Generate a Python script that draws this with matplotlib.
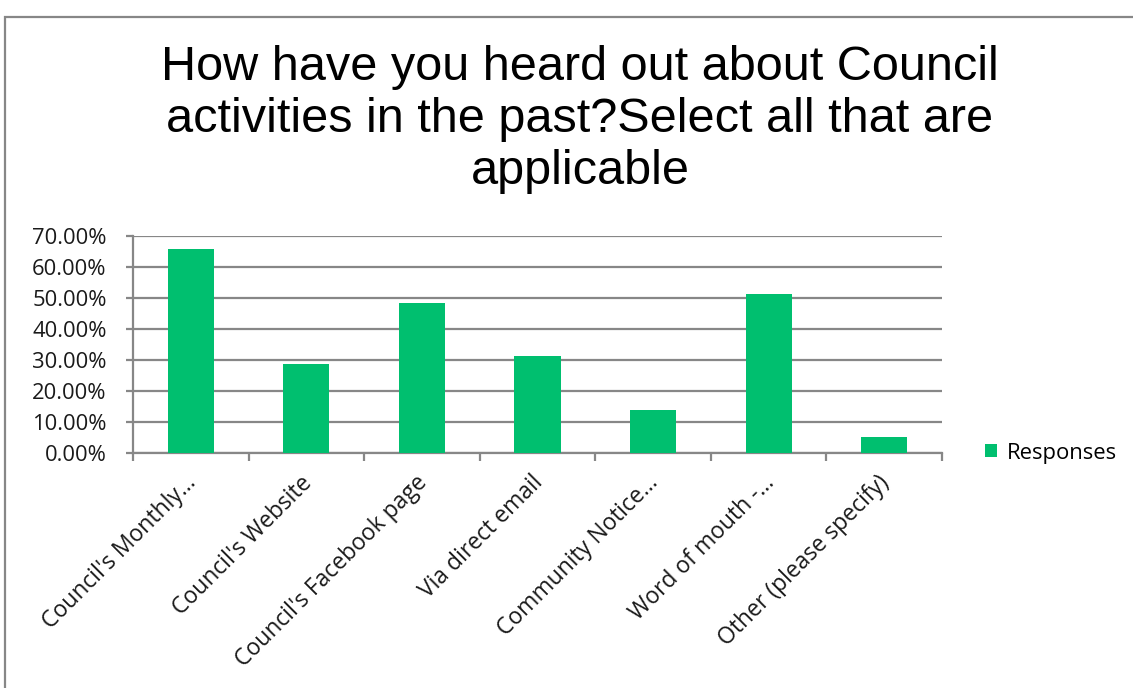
import matplotlib
matplotlib.use("Agg")
import matplotlib.pyplot as plt
from matplotlib.patches import Rectangle
from matplotlib.ticker import FixedLocator, PercentFormatter
from matplotlib.transforms import ScaledTranslation

categories = [
    "Council's Monthly\u2026",
    "Council's Website",
    "Council's Facebook page",
    "Via direct email",
    "Community Notice\u2026",
    "Word of mouth -\u2026",
    "Other (please specify)",
]
responses = [65.7, 28.6, 48.3, 31.3, 13.9, 51.2, 5.2]
y_ticks = [0, 10, 20, 30, 40, 50, 60, 70]

W, H = 1133, 688
fig = plt.figure(figsize=(W / 100, H / 100), dpi=100)
fig.patch.set_facecolor("white")

# chart frame (runs off the right and bottom edges)
fig.patches.append(Rectangle((5 / W, -0.05), 1.2, 1 - 17 / H + 0.05,
                             transform=fig.transFigure, fill=False,
                             edgecolor="#878787", linewidth=1.6))

ax = fig.add_axes([133 / W, 1 - 453 / H, (942 - 133) / W, (453 - 236) / H])

green = "#00BF6F"
grid_c = "#878787"
text_c = "#1a1a1a"
tick_font = "Open Sans"
tick_size = 15.8
cat_size = 16.5

x = list(range(len(categories)))
ax.bar(x, responses, width=0.4, color=green, zorder=3, label="Responses")

ax.set_xlim(-0.5, len(categories) - 0.5)
ax.set_ylim(0, 70)
ax.yaxis.set_major_locator(FixedLocator(y_ticks))
ax.yaxis.set_major_formatter(PercentFormatter(decimals=2))
ax.grid(axis="y", color=grid_c, linewidth=1.6, zorder=0)
ax.set_axisbelow(True)

for s in ["top", "right"]:
    ax.spines[s].set_visible(False)
for s in ["left", "bottom"]:
    ax.spines[s].set_color(grid_c)
    ax.spines[s].set_linewidth(1.6)

ax.tick_params(axis="y", length=5, width=1.6, color=grid_c, pad=14,
               labelsize=tick_size, labelcolor=text_c)
for lab in ax.get_yticklabels():
    lab.set_fontfamily(tick_font)

# category labels at the centres, tick marks at the boundaries
ax.set_xticks(x)
ax.set_xticklabels(categories, rotation=45, ha="right", va="center",
                   rotation_mode="anchor", fontsize=cat_size,
                   fontfamily=tick_font, color=text_c)
ax.tick_params(axis="x", which="major", length=0, pad=19)
ax.set_xticks([i - 0.5 for i in range(len(categories) + 1)], minor=True)
ax.tick_params(axis="x", which="minor", length=6, width=1.6, color=grid_c)
shift = ScaledTranslation(2 / 100, 0, fig.dpi_scale_trans)
for lab in ax.get_xticklabels():
    lab.set_transform(lab.get_transform() + shift)

fig.text(580 / W, 1 - 45 / H,
         "How have you heard out about Council\nactivities in the past?Select all that are\napplicable",
         ha="center", va="top", fontsize=35, fontfamily="Liberation Sans",
         linespacing=1.2, color="#000000")

ax.legend(loc="center left", bbox_to_anchor=(1.042, 0.0), frameon=False,
          prop={"family": tick_font, "size": tick_size}, handlelength=0.55,
          handleheight=0.55, handletextpad=0.45, borderaxespad=0)

fig.savefig("out.png", dpi=100, facecolor="white")
